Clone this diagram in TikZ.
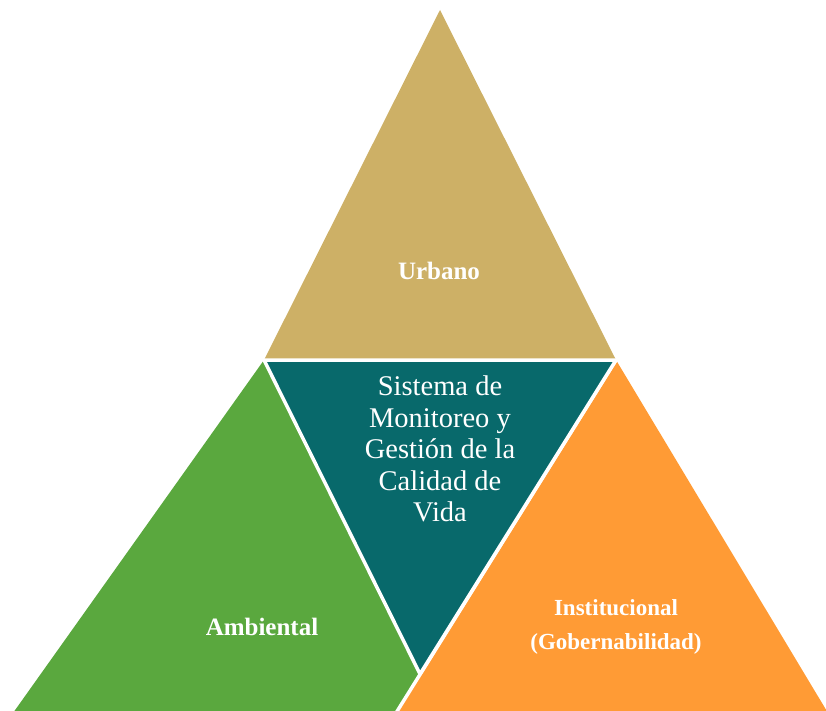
\documentclass[tikz,border=0pt]{standalone}
\usepackage{fontspec}
\setmainfont{Liberation Serif}
\definecolor{colUrb}{RGB}{205,176,102}
\definecolor{colSis}{RGB}{8,105,107}
\definecolor{colAmb}{RGB}{90,168,62}
\definecolor{colIns}{RGB}{255,155,53}
\begin{document}
\begin{tikzpicture}[x=1pt,y=-1pt,
  gap/.style={draw=white, line width=3.5pt, line join=round},
  lbl/.style={text=white, align=center, font=\bfseries\fontsize{25}{34}\selectfont}]
\useasboundingbox (0,0) rectangle (826,711);
\clip (0,0) rectangle (826,711);
\coordinate (t0) at (440,10);
\coordinate (t1) at (264,360);
\coordinate (t2) at (616,360);
\coordinate (t3) at (420,674);
\coordinate (a1) at (13,713);
\coordinate (a2) at (439,713);
\coordinate (i1) at (396,713);
\coordinate (i2) at (828,713);
\fill[colAmb] (t1) -- (a1) -- (a2) -- cycle;
\fill[colIns] (t2) -- (i1) -- (i2) -- cycle;
\draw[gap] (i1) -- (t2);
\fill[colUrb] (t0) -- (t1) -- (t2) -- cycle;
\draw[gap, fill=colSis] (t1) -- (t2) -- (t3) -- cycle;
\node[lbl] (urb) at (439,271) {Urbano};
\node[lbl] (amb) at (262,627) {Ambiental};
\node[lbl, font=\bfseries\fontsize{23}{34}\selectfont] (ins) at (616,627) {Institucional\\(Gobernabilidad)};
\node[lbl, font=\fontsize{28.5}{31.5}\selectfont] (sis) at (440,449) {Sistema de\\Monitoreo y\\Gestión de la\\Calidad de\\Vida};

\end{tikzpicture}
\end{document}
